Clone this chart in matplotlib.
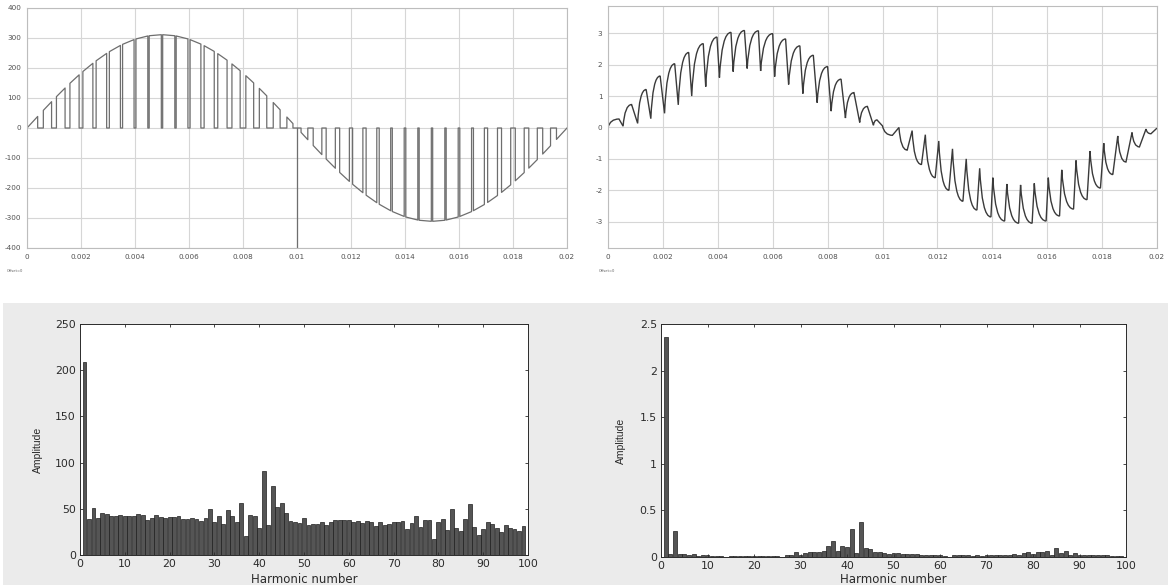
import numpy as np
import matplotlib
matplotlib.use('Agg')
import matplotlib.pyplot as plt
from matplotlib.path import Path
from matplotlib.patches import PathPatch, Rectangle

# ---------------- data ----------------
time_ticks = [0, 0.002, 0.004, 0.006, 0.008, 0.01, 0.012, 0.014, 0.016, 0.018, 0.02]
volt_ticks = [-400, -300, -200, -100, 0, 100, 200, 300, 400]
cur_ticks = [-3, -2, -1, 0, 1, 2, 3]

# PWM voltage: sine envelope with a zero notch every carrier period
v_peak = 311
f_line = 50
carrier_T = 0.0005
notch_width = [0.00021, 0.00018, 0.00018, 0.00014, 0.00012, 0.0001, 0.00008, 0.00007, 0.00005, 0.00005,
               0.00005, 0.00008, 0.00012, 0.00013, 0.00018, 0.00021, 0.00021, 0.00024, 0.00025, 0.0003,
               0.0002, 0.00016, 0.00016, 0.00012, 0.00012, 0.00009, 0.00006, 0.00006, 0.00005, 0.00005,
               0.00005, 0.00006, 0.00007, 0.00012, 0.00015, 0.00017, 0.00017, 0.0002, 0.00022]
spike_t = 0.01
spike_v = -400

# load current: ripple peaks / troughs
cur_t = [0, 0.0004, 0.00055, 0.00086, 0.00108, 0.00139, 0.00156, 0.0019, 0.00206, 0.00243, 0.00256,
         0.00294, 0.00305, 0.00347, 0.00356, 0.00397, 0.00406, 0.00448, 0.00456, 0.00497, 0.00507,
         0.00548, 0.00556, 0.006, 0.00607, 0.00647, 0.00658, 0.00699, 0.0071, 0.00748, 0.00762,
         0.008, 0.00813, 0.00849, 0.00865, 0.00896, 0.00917, 0.00945, 0.00967,
         0.0098, 0.01, 0.01036, 0.0106,
         0.0109, 0.01108, 0.01142, 0.01156, 0.01192, 0.01205, 0.01242, 0.01255, 0.01293, 0.01305,
         0.01344, 0.01354, 0.01395, 0.01402, 0.01445, 0.01453, 0.01496, 0.01503, 0.01545, 0.01553,
         0.01596, 0.01604, 0.01645, 0.01653, 0.01696, 0.01705, 0.01745, 0.01756, 0.01794, 0.01806,
         0.01839, 0.01857, 0.01887, 0.01909, 0.01936, 0.0196, 0.01978, 0.02]
cur_v = [0, 0.27, 0.04, 0.73, 0.13, 1.21, 0.28, 1.64, 0.45, 2.03, 0.72,
         2.39, 1.0, 2.67, 1.3, 2.88, 1.59, 3.03, 1.78, 3.09, 1.88,
         3.08, 1.8, 2.99, 1.62, 2.82, 1.37, 2.6, 1.08, 2.3, 0.79,
         1.94, 0.52, 1.54, 0.3, 1.11, 0.16, 0.67, 0.07,
         0.24, 0.05, -0.25, 0.0,
         -0.72, -0.1, -1.18, -0.23, -1.6, -0.43, -2.0, -0.68, -2.35, -1.0,
         -2.63, -1.3, -2.85, -1.6, -2.98, -1.8, -3.05, -1.83, -3.05, -1.78,
         -2.98, -1.6, -2.82, -1.35, -2.6, -1.05, -2.3, -0.75, -1.93, -0.5,
         -1.5, -0.27, -1.1, -0.16, -0.62, -0.05, -0.2, -0.02]

harm_n = np.arange(1, 100)
amp_v = [209, 38.5, 50.4, 40, 45, 44.6, 42.5, 42.5, 43.5, 41.7,
         41.7, 42.4, 43.9, 43.5, 37.8, 40.3, 43.5, 40.6, 40, 40.6,
         40.6, 41.7, 38.5, 39.2, 39.6, 38.5, 37, 40.3, 49.6, 35.6,
         41.7, 33.5, 48.6, 41.7, 35.3, 56.8, 20.9, 43.5, 41.7, 28.8,
         90.6, 32.7, 74.8, 52.2, 56.1, 45, 36.7, 35.3, 34.5, 40.3,
         33, 34, 34, 35.6, 32.7, 35.3, 37.8, 37.8, 37.4, 37.4,
         36, 36.3, 34.5, 36.3, 35.6, 31.7, 35.6, 33, 33.8, 35.3,
         35.3, 36.7, 28, 34.5, 41.7, 30.6, 38, 38, 17.3, 35.3,
         38.5, 27, 49.6, 29.5, 25.9, 38.8, 55, 30.6, 21.9, 27.7,
         36, 33.8, 28.8, 24.8, 33, 29.5, 27.7, 25.9, 31.7]
amp_i = [2.36, 0.032, 0.279, 0.036, 0.029, 0.021, 0.029, 0.014, 0.018, 0.02,
         0.014, 0.01, 0.01, 0.003, 0.014, 0.01, 0.01, 0.01, 0.01, 0.01,
         0.014, 0.01, 0.01, 0.01, 0.012, 0.003, 0.02, 0.018, 0.057, 0.025,
         0.04, 0.05, 0.054, 0.057, 0.064, 0.118, 0.168, 0.068, 0.118, 0.11,
         0.304, 0.043, 0.372, 0.093, 0.09, 0.057, 0.057, 0.04, 0.03, 0.04,
         0.04, 0.03, 0.03, 0.03, 0.028, 0.025, 0.02, 0.018, 0.018, 0.025,
         0.014, 0.003, 0.018, 0.018, 0.018, 0.018, 0.014, 0.02, 0.014, 0.025,
         0.018, 0.018, 0.018, 0.025, 0.025, 0.036, 0.025, 0.047, 0.054, 0.028,
         0.054, 0.05, 0.064, 0.018, 0.093, 0.04, 0.068, 0.02, 0.047, 0.02,
         0.025, 0.025, 0.025, 0.02, 0.02, 0.02, 0.015, 0.015, 0.012]
harm_ticks = [0, 10, 20, 30, 40, 50, 60, 70, 80, 90, 100]

# ---------------- figure ----------------
W, H = 1169, 585
fig = plt.figure(figsize=(W / 100, H / 100), dpi=100)
fig.patches.append(Rectangle((3 / W, 0), 1165 / W, 1 - 303 / H, transform=fig.transFigure,
                             facecolor='#ebebeb', edgecolor='none', zorder=-10))


def box(l, t, r, b):
    return [l / W, 1 - b / H, (r - l) / W, (b - t) / H]


def scope_style(ax, yticks):
    ax.set_xlim(0, 0.02)
    ax.set_xticks(time_ticks)
    ax.set_xticklabels(['%g' % v for v in time_ticks])
    ax.set_yticks(yticks)
    ax.set_yticklabels(['%g' % v for v in yticks])
    ax.grid(True, color='#d6d6d6', lw=0.8)
    ax.set_axisbelow(True)
    ax.tick_params(length=0, labelsize=5.2, colors='#505050', pad=4)
    for s in ax.spines.values():
        s.set_color('#bdbdbd')
        s.set_linewidth(0.8)


# top-left: PWM voltage
ax1 = fig.add_axes(box(27, 8, 567, 248))
w = np.array(notch_width)
centers = carrier_T * np.arange(1, len(w) + 1)
starts = centers - w / 2
ends = centers + w / 2
on_a = np.concatenate([[0], ends])
on_b = np.concatenate([starts, [0.02]])
env = lambda t: v_peak * np.sin(2 * np.pi * f_line * t)
vt, vv = [], []
for a, b in zip(on_a, on_b):
    vt += [a, a, b, b]
    vv += [0, env(a), env(b), 0]
ax1.plot(vt, vv, color='#6e6e6e', lw=0.9)
ax1.plot([spike_t, spike_t], [0, spike_v], color='#6e6e6e', lw=0.9)
ax1.set_ylim(-400, 400)
scope_style(ax1, volt_ticks)

# top-right: current
ax2 = fig.add_axes(box(608, 6, 1157, 248))
verts = [(cur_t[0], cur_v[0])]
codes = [Path.MOVETO]
for i in range(1, len(cur_t)):
    t0, v0 = cur_t[i - 1], cur_v[i - 1]
    t1, v1 = cur_t[i], cur_v[i]
    if abs(v1) > abs(v0):
        verts += [(t0 + 0.2 * (t1 - t0), v1), (t1, v1)]
        codes += [Path.CURVE3, Path.CURVE3]
    else:
        verts.append((t1, v1))
        codes.append(Path.LINETO)
ax2.add_patch(PathPatch(Path(verts, codes), fill=False, edgecolor='#3a3a3a', lw=1.0))
ax2.set_ylim(-3.84, 3.87)
scope_style(ax2, cur_ticks)

fig.text(7 / W, 1 - 271 / H, 'Offset=0', fontsize=2.6, color='#606060', va='center')
fig.text(599 / W, 1 - 271 / H, 'Offset=0', fontsize=2.6, color='#606060', va='center')


def spectrum(ax, amps, ylim, yticks, lab_x, lab_y, xl_y):
    ax.bar(harm_n, amps, width=0.85, color='#555555', edgecolor='#1e1e1e', linewidth=0.5)
    ax.set_xlim(0, 100)
    ax.set_ylim(*ylim)
    ax.set_xticks(harm_ticks)
    ax.set_yticks(yticks)
    ax.set_yticklabels(['%g' % v for v in yticks])
    ax.tick_params(direction='in', length=2.5, width=0.6, top=True, right=True,
                   labelsize=7.8, colors='#2a2a2a', pad=3)
    for s in ax.spines.values():
        s.set_color('#2a2a2a')
        s.set_linewidth(0.7)
    ax.set_xlabel('Harmonic number', fontsize=8.5, color='#2a2a2a', va='top')
    ax.xaxis.set_label_coords(0.5, xl_y)
    ax.set_ylabel('Amplitude', fontsize=7.5, family='Liberation Sans', color='#2a2a2a')
    ax.yaxis.set_label_coords(lab_x, lab_y)


ax3 = fig.add_axes(box(80, 324, 528, 555))
spectrum(ax3, amp_v, (0, 250), [0, 50, 100, 150, 200, 250], -0.083, 0.455, -0.078)

ax4 = fig.add_axes(box(661, 324, 1126, 557))
spectrum(ax4, amp_i, (0, 2.5), [0, 0.5, 1, 1.5, 2, 2.5], -0.075, 0.498, -0.07)

fig.savefig('out.png', dpi=100)
